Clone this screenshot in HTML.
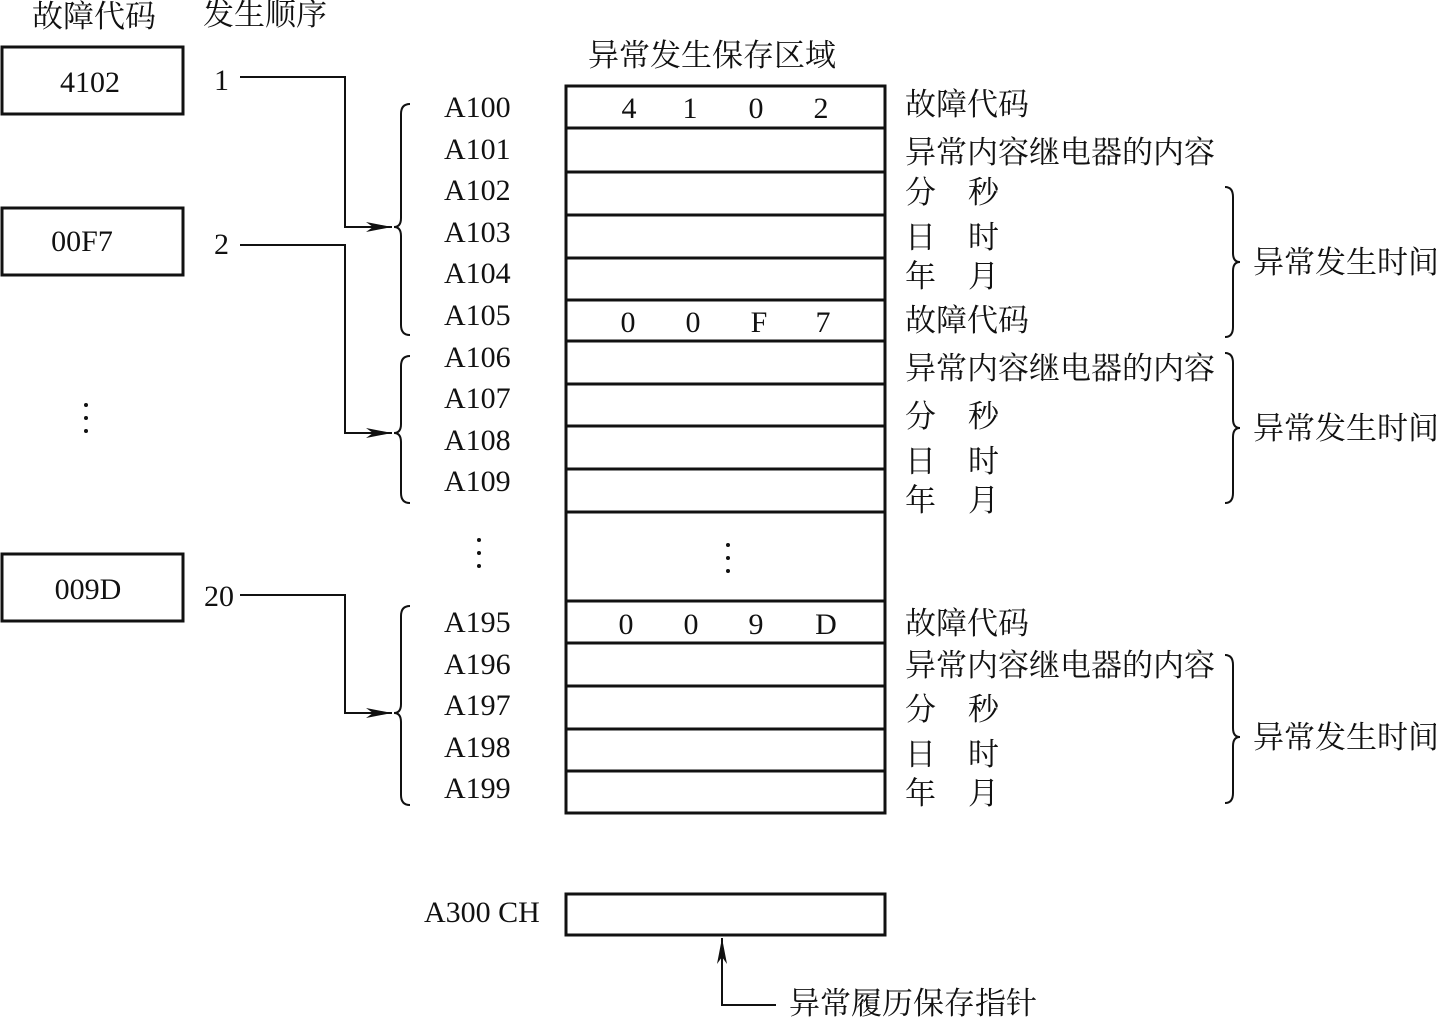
<!DOCTYPE html>
<html><head><meta charset="utf-8"><style>
html,body{margin:0;padding:0;background:#fff;}
svg{display:block;}
.l{font-family:"Liberation Serif","Noto Serif CJK SC",serif;font-size:30px;fill:#111;}
.c{font-family:"Liberation Serif","Noto Serif CJK SC",serif;font-size:31px;fill:#111;}
</style></head><body>
<svg width="1436" height="1017" viewBox="0 0 1436 1017" xmlns="http://www.w3.org/2000/svg">
<defs><marker id="ar" markerWidth="26" markerHeight="12" refX="26" refY="6" orient="auto" markerUnits="userSpaceOnUse"><path d="M0,1 L26,6 L0,11 L7,6 Z" fill="#111"/></marker></defs>
<g stroke="#111" fill="none">
<rect x="2" y="47" width="181" height="67" stroke-width="3"/>
<rect x="2" y="208" width="181" height="67" stroke-width="3"/>
<rect x="2" y="554" width="181" height="67" stroke-width="3"/>
<rect x="566" y="86" width="319" height="727" stroke-width="3"/>
<path d="M566 128H885M566 172H885M566 215H885M566 258H885M566 300H885M566 341H885M566 384H885M566 426H885M566 469H885M566 512H885M566 601H885M566 643H885M566 686H885M566 729H885M566 771H885" stroke-width="3"/>
<rect x="566" y="894" width="319" height="41" stroke-width="3"/>
<path d="M240 77H345V227H392" stroke-width="2" marker-end="url(#ar)"/>
<path d="M240 245H345V433H392" stroke-width="2" marker-end="url(#ar)"/>
<path d="M240 595H345V713H392" stroke-width="2" marker-end="url(#ar)"/>
<path d="M776 1005H722V938" stroke-width="2" marker-end="url(#ar)"/>
<g stroke-width="2">
<path d="M410 104Q401 104 401 114V218Q401 227 394 227Q401 227 401 236V325Q401 335 410 335"/>
<path d="M410 356Q401 356 401 366V424Q401 433 394 433Q401 433 401 442V493Q401 503 410 503"/>
<path d="M410 606Q401 606 401 616V704Q401 713 394 713Q401 713 401 722V795Q401 805 410 805"/>
<path d="M1225 187Q1233 187 1233 197V253Q1233 262 1240 262Q1233 262 1233 271V327Q1233 337 1225 337"/>
<path d="M1225 353Q1233 353 1233 363V419Q1233 428 1240 428Q1233 428 1233 437V493Q1233 503 1225 503"/>
<path d="M1225 655Q1233 655 1233 665V728Q1233 737 1240 737Q1233 737 1233 746V793Q1233 803 1225 803"/>
</g>
</g>
<g fill="#111">
<circle cx="86" cy="405" r="2"/><circle cx="86" cy="418" r="2"/><circle cx="86" cy="431" r="2"/>
<circle cx="479" cy="540" r="2"/><circle cx="479" cy="553" r="2"/><circle cx="479" cy="566" r="2"/>
<circle cx="728" cy="545" r="2"/><circle cx="728" cy="558" r="2"/><circle cx="728" cy="571" r="2"/>
</g>
<g class="c">
<text x="32" y="27">故障代码</text>
<text x="203" y="25">发生顺序</text>
<text x="588" y="66">异常发生保存区域</text>
</g>
<g class="l" text-anchor="middle">
<text x="90" y="92">4102</text>
<text x="82" y="251">00F7</text>
<text x="88" y="599">009D</text>
</g>
<g class="l">
<text x="214" y="90">1</text>
<text x="214" y="254">2</text>
<text x="204" y="606">20</text>
<text x="444" y="117">A100</text><text x="444" y="159">A101</text><text x="444" y="200">A102</text><text x="444" y="242">A103</text><text x="444" y="283">A104</text><text x="444" y="325">A105</text><text x="444" y="367">A106</text><text x="444" y="408">A107</text><text x="444" y="450">A108</text><text x="444" y="491">A109</text>
<text x="444" y="632">A195</text><text x="444" y="674">A196</text><text x="444" y="715">A197</text><text x="444" y="757">A198</text><text x="444" y="798">A199</text>
<text x="424" y="922">A300 CH</text>
</g>
<g class="l" text-anchor="middle">
<text x="629" y="118">4</text><text x="690" y="118">1</text><text x="756" y="118">0</text><text x="821" y="118">2</text>
<text x="628" y="332">0</text><text x="693" y="332">0</text><text x="759" y="332">F</text><text x="823" y="332">7</text>
<text x="626" y="634">0</text><text x="691" y="634">0</text><text x="756" y="634">9</text><text x="826" y="634">D</text>
</g>
<g class="c">
<text x="905" y="115">故障代码</text>
<text x="905" y="163">异常内容继电器的内容</text>
<text x="905" y="203">分</text><text x="968" y="203">秒</text>
<text x="905" y="248">日</text><text x="968" y="248">时</text>
<text x="905" y="287">年</text><text x="968" y="287">月</text>
<text x="905" y="331">故障代码</text>
<text x="905" y="379">异常内容继电器的内容</text>
<text x="905" y="427">分</text><text x="968" y="427">秒</text>
<text x="905" y="472">日</text><text x="968" y="472">时</text>
<text x="905" y="511">年</text><text x="968" y="511">月</text>
<text x="905" y="634">故障代码</text>
<text x="905" y="676">异常内容继电器的内容</text>
<text x="905" y="720">分</text><text x="968" y="720">秒</text>
<text x="905" y="765">日</text><text x="968" y="765">时</text>
<text x="905" y="804">年</text><text x="968" y="804">月</text>
<text x="1253" y="273">异常发生时间</text>
<text x="1253" y="439">异常发生时间</text>
<text x="1253" y="748">异常发生时间</text>
<text x="789" y="1014">异常履历保存指针</text>
</g>
</svg>
</body></html>
